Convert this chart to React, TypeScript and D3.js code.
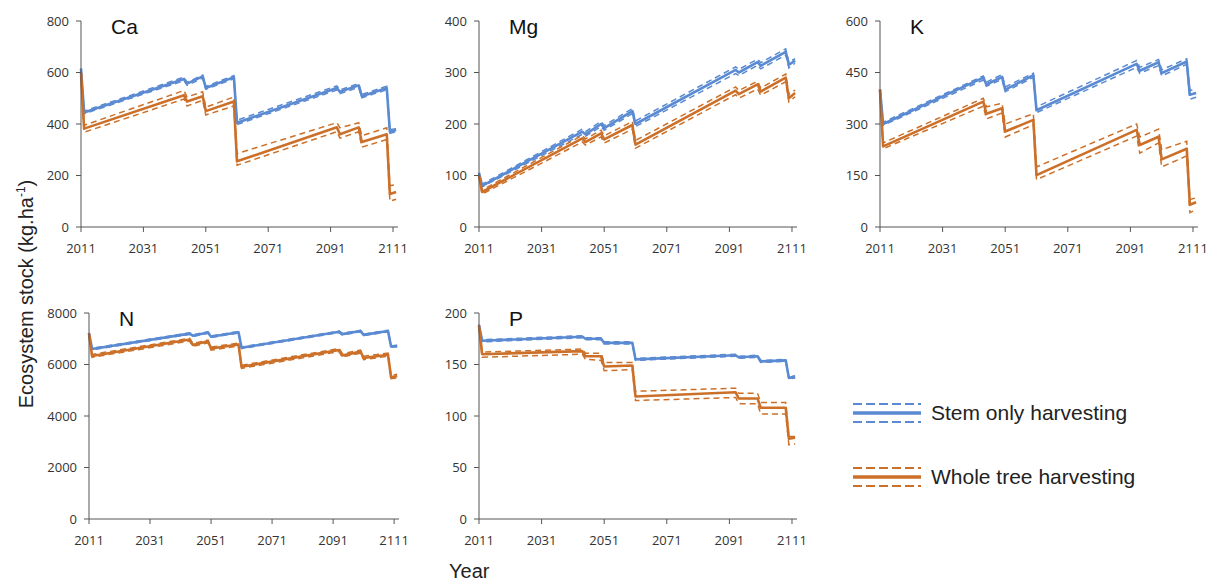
import React from 'react';
import * as d3 from 'd3';

const BLUE = '#5a8ad2';
const ORANGE = '#cc7029';

// break-point years shared by every series (harvest events)
const years = [2011, 2012, 2044, 2045, 2050, 2051, 2060, 2061, 2093, 2094, 2100, 2101, 2109, 2110, 2112];
const xTicks = [2011, 2031, 2051, 2071, 2091, 2111];

// Ca
const caStem = [615, 445, 575, 557, 585, 540, 582, 405, 540, 525, 550, 508, 540, 370, 377];
const caStemHi = [615, 450, 582, 562, 590, 546, 588, 415, 548, 532, 557, 515, 547, 378, 382];
const caStemLo = [612, 440, 568, 550, 578, 535, 576, 398, 532, 518, 543, 502, 533, 364, 370];
const caWhole = [600, 382, 512, 487, 508, 450, 487, 255, 387, 360, 387, 330, 360, 128, 136];
const caWholeHi = [600, 395, 530, 505, 525, 465, 505, 285, 405, 385, 405, 355, 385, 160, 165];
const caWholeLo = [595, 368, 497, 470, 492, 435, 470, 240, 370, 345, 370, 310, 340, 100, 108];

// Mg
const mgStem = [105, 80, 185, 180, 200, 192, 225, 200, 305, 300, 320, 313, 340, 315, 323];
const mgStemHi = [105, 83, 190, 185, 205, 197, 230, 206, 311, 306, 326, 319, 346, 320, 327];
const mgStemLo = [103, 78, 180, 176, 195, 188, 220, 195, 298, 294, 314, 307, 334, 309, 318];
const mgWhole = [100, 68, 172, 165, 182, 170, 198, 160, 265, 258, 277, 263, 290, 250, 260];
const mgWholeHi = [100, 72, 178, 171, 188, 177, 205, 168, 272, 265, 283, 270, 297, 258, 266];
const mgWholeLo = [98, 64, 165, 159, 175, 163, 190, 153, 257, 250, 268, 256, 282, 243, 253];

// K
const kStem = [400, 300, 435, 415, 437, 400, 442, 340, 475, 455, 480, 448, 482, 385, 390];
const kStemHi = [400, 305, 440, 422, 444, 408, 448, 350, 485, 465, 488, 458, 490, 398, 400];
const kStemLo = [398, 296, 428, 410, 430, 394, 436, 333, 465, 448, 470, 440, 474, 372, 378];
const kWhole = [400, 235, 365, 330, 346, 278, 312, 151, 283, 239, 263, 197, 228, 65, 72];
const kWholeHi = [400, 245, 375, 350, 360, 300, 330, 175, 300, 262, 285, 225, 250, 80, 85];
const kWholeLo = [395, 228, 352, 315, 332, 262, 298, 138, 265, 215, 245, 175, 207, 42, 50];

// N
const nStem = [7210, 6600, 7200, 7120, 7240, 7080, 7250, 6650, 7270, 7180, 7300, 7150, 7300, 6700, 6720];
const nStemHi = [7230, 6630, 7230, 7150, 7270, 7110, 7280, 6680, 7300, 7210, 7330, 7180, 7330, 6730, 6750];
const nStemLo = [7190, 6570, 7170, 7090, 7210, 7050, 7220, 6620, 7240, 7150, 7270, 7120, 7270, 6670, 6690];
const nWhole = [7200, 6330, 6970, 6760, 6900, 6620, 6780, 5910, 6560, 6350, 6500, 6250, 6380, 5500, 5550];
const nWholeHi = [7220, 6390, 7020, 6820, 6950, 6680, 6830, 5970, 6620, 6420, 6560, 6320, 6440, 5580, 5620];
const nWholeLo = [7180, 6280, 6910, 6700, 6840, 6560, 6720, 5850, 6500, 6290, 6440, 6190, 6320, 5450, 5480];

// P
const pStem = [188, 173, 177, 175, 175, 171, 171, 155, 159, 157, 158, 153, 154, 137, 138];
const pStemHi = [189, 174, 178, 176, 176, 172, 172, 156, 160, 158, 159, 154, 155, 138, 139];
const pStemLo = [187, 172, 176, 174, 174, 170, 170, 154, 158, 156, 157, 152, 153, 136, 137];
const pWhole = [188, 160, 163, 158, 158, 148, 149, 119, 123, 117, 117, 108, 108, 78, 79];
const pWholeHi = [188, 162, 165, 161, 161, 152, 152, 124, 127, 122, 122, 113, 113, 80, 80];
const pWholeLo = [186, 157, 160, 155, 154, 144, 145, 115, 118, 112, 112, 102, 102, 72, 73];

const panels = [
  { name: 'Ca', left: 81, right: 398, top: 21, bottom: 227, max: 800, yTicks: [0, 200, 400, 600, 800],
    stem: [caStem, caStemHi, caStemLo], whole: [caWhole, caWholeHi, caWholeLo] },
  { name: 'Mg', left: 479, right: 797, top: 21, bottom: 227, max: 400, yTicks: [0, 100, 200, 300, 400],
    stem: [mgStem, mgStemHi, mgStemLo], whole: [mgWhole, mgWholeHi, mgWholeLo] },
  { name: 'K', left: 880, right: 1198, top: 21, bottom: 227, max: 600, yTicks: [0, 150, 300, 450, 600],
    stem: [kStem, kStemHi, kStemLo], whole: [kWhole, kWholeHi, kWholeLo] },
  { name: 'N', left: 89, right: 399, top: 313, bottom: 519, max: 8000, yTicks: [0, 2000, 4000, 6000, 8000],
    stem: [nStem, nStemHi, nStemLo], whole: [nWhole, nWholeHi, nWholeLo] },
  { name: 'P', left: 479, right: 797, top: 313, bottom: 519, max: 200, yTicks: [0, 50, 100, 150, 200],
    stem: [pStem, pStemHi, pStemLo], whole: [pWhole, pWholeHi, pWholeLo] },
];

const tickFont = '"Open Sans", sans-serif';
const labelFont = '"Liberation Sans", Arial, sans-serif';

function Panel({ p }) {
  const x = d3.scaleLinear().domain([2011, 2112.6]).range([p.left, p.right]);
  const y = d3.scaleLinear().domain([0, p.max]).range([p.bottom, p.top]);
  const line = d3.line<number>().x((d, i) => x(years[i])).y(d => y(d));

  const series = (vals, color) => (
    <g>
      <path d={line(vals[1])} fill="none" stroke={color} strokeWidth={1.5} strokeDasharray="6,4" />
      <path d={line(vals[2])} fill="none" stroke={color} strokeWidth={1.5} strokeDasharray="6,4" />
      <path d={line(vals[0])} fill="none" stroke={color} strokeWidth={2.6} strokeLinejoin="round" />
    </g>
  );

  return (
    <g>
      {series(p.stem, BLUE)}
      {series(p.whole, ORANGE)}
      <line x1={p.left} x2={p.left} y1={p.top} y2={p.bottom} stroke="#555" />
      <line x1={p.left} x2={p.right} y1={p.bottom} y2={p.bottom} stroke="#555" />
      {p.yTicks.map(t => (
        <g key={t}>
          <line x1={p.left - 5} x2={p.left} y1={y(t)} y2={y(t)} stroke="#555" />
          <text x={p.left - 12} y={y(t)} dy="0.35em" textAnchor="end" fontSize={13}
            fontFamily={tickFont} fill="#333">{t}</text>
        </g>
      ))}
      {xTicks.map(t => (
        <g key={t}>
          <line x1={x(t)} x2={x(t)} y1={p.bottom} y2={p.bottom + 5} stroke="#555" />
          <text x={x(t)} y={p.bottom + 26} textAnchor="middle" fontSize={13}
            fontFamily={tickFont} fill="#333">{t}</text>
        </g>
      ))}
      <text x={p.left + 30} y={p.top + 13} fontSize={21} fontFamily={labelFont} fill="#111">{p.name}</text>
    </g>
  );
}

function LegendItem({ yMid, color, label }) {
  return (
    <g>
      <line x1={853} x2={921} y1={yMid - 9} y2={yMid - 9} stroke={color} strokeWidth={2} strokeDasharray="9,4" />
      <line x1={853} x2={921} y1={yMid} y2={yMid} stroke={color} strokeWidth={3.5} />
      <line x1={853} x2={921} y1={yMid + 9} y2={yMid + 9} stroke={color} strokeWidth={2} strokeDasharray="9,4" />
      <text x={931} y={yMid + 7} fontSize={21} fontFamily={labelFont} fill="#222">{label}</text>
    </g>
  );
}

export default function App() {
  return (
    <svg width={1216} height={581} style={{ position: 'absolute', left: 0, top: 0, background: '#fff' }}>
      {panels.map(p => <Panel key={p.name} p={p} />)}
      <text transform="translate(33,294) rotate(-90)" textAnchor="middle" fontSize={20}
        fontFamily={labelFont} fill="#222">
        Ecosystem stock (kg.ha<tspan dy={-8} fontSize={12}>-1</tspan><tspan dy={8}>)</tspan>
      </text>
      <text x={449} y={578} fontSize={20} fontFamily={labelFont} fill="#222">Year</text>
      <LegendItem yMid={413} color={BLUE} label="Stem only harvesting" />
      <LegendItem yMid={477} color={ORANGE} label="Whole tree harvesting" />
    </svg>
  );
}
